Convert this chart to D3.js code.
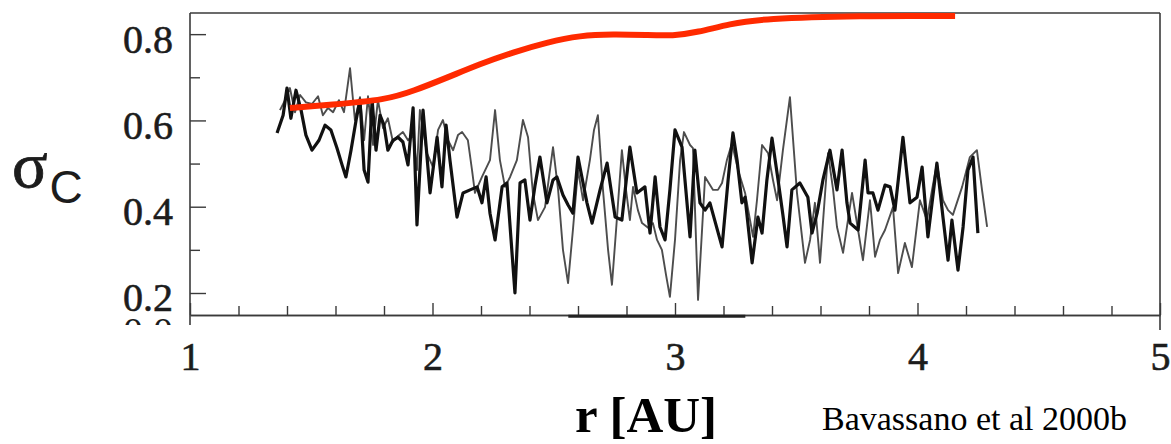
<!DOCTYPE html>
<html>
<head>
<meta charset="utf-8">
<script src="https://cdn.jsdelivr.net/npm/d3@7"></script>
<style>
  body { margin: 0; background: #fff; }
  svg { display: block; }
</style>
</head>
<body>
<svg id="chart"></svg>
<script>
// cross helicity sigma_c vs heliocentric distance
let xTicks = [1, 2, 3, 4, 5];
let yTicks = [0.2, 0.4, 0.6, 0.8];

// red trend line
let trend = [
  [1.412, 0.629], [1.577, 0.636], [1.812, 0.648], [1.920, 0.668], [2.060, 0.699],
  [2.196, 0.731], [2.332, 0.758], [2.472, 0.781], [2.608, 0.797], [2.744, 0.800],
  [2.885, 0.798], [2.992, 0.796], [3.091, 0.804], [3.227, 0.824], [3.363, 0.836],
  [3.763, 0.843], [4.155, 0.842]
];

// thick dark series
let darkSeries = [
  [1.359,0.571],[1.384,0.612],[1.400,0.675],[1.416,0.605],[1.437,0.670],[1.458,0.624],
  [1.478,0.566],[1.503,0.531],[1.532,0.554],[1.557,0.589],[1.581,0.578],[1.606,0.536],
  [1.627,0.497],[1.643,0.469],[1.664,0.531],[1.685,0.601],[1.701,0.647],[1.718,0.485],
  [1.734,0.457],[1.751,0.647],[1.767,0.531],[1.784,0.612],[1.800,0.589],[1.816,0.531],
  [1.837,0.554],[1.858,0.561],[1.878,0.550],[1.899,0.497],[1.920,0.629],[1.936,0.358],
  [1.961,0.624],[1.990,0.432],[2.019,0.561],[2.039,0.446],[2.056,0.589],[2.072,0.508],
  [2.101,0.376],[2.126,0.432],[2.155,0.439],[2.184,0.446],[2.204,0.409],[2.221,0.469],
  [2.237,0.385],[2.258,0.323],[2.287,0.446],[2.307,0.455],[2.324,0.323],[2.340,0.200],
  [2.361,0.455],[2.381,0.462],[2.402,0.369],[2.423,0.450],[2.443,0.515],[2.472,0.409],
  [2.497,0.462],[2.513,0.469],[2.538,0.427],[2.559,0.404],[2.579,0.385],[2.600,0.515],
  [2.616,0.469],[2.637,0.409],[2.658,0.362],[2.691,0.439],[2.720,0.501],[2.753,0.376],
  [2.781,0.369],[2.814,0.538],[2.843,0.432],[2.876,0.446],[2.897,0.339],[2.918,0.469],
  [2.938,0.353],[2.959,0.323],[2.979,0.439],[3.000,0.578],[3.029,0.538],[3.062,0.330],
  [3.082,0.531],[3.103,0.409],[3.124,0.392],[3.144,0.409],[3.169,0.358],[3.194,0.307],
  [3.219,0.462],[3.239,0.571],[3.256,0.508],[3.276,0.409],[3.289,0.422],[3.318,0.270],
  [3.342,0.376],[3.359,0.339],[3.379,0.462],[3.400,0.559],[3.425,0.462],[3.445,0.381],
  [3.462,0.307],[3.482,0.439],[3.515,0.455],[3.548,0.422],[3.565,0.339],[3.586,0.385],
  [3.610,0.462],[3.639,0.531],[3.668,0.439],[3.689,0.531],[3.709,0.409],[3.722,0.362],
  [3.755,0.346],[3.784,0.508],[3.796,0.432],[3.816,0.432],[3.837,0.392],[3.866,0.450],
  [3.887,0.446],[3.907,0.392],[3.940,0.561],[3.969,0.409],[3.998,0.422],[4.019,0.492],
  [4.043,0.330],[4.080,0.501],[4.105,0.376],[4.126,0.276],[4.142,0.369],[4.167,0.253],
  [4.188,0.353],[4.208,0.485],[4.229,0.515],[4.249,0.339]
];

// thin grey series
let greySeries = [
  [1.371,0.624],[1.392,0.647],[1.412,0.675],[1.433,0.619],[1.454,0.659],[1.478,0.642],
  [1.503,0.638],[1.528,0.656],[1.548,0.612],[1.569,0.629],[1.590,0.619],[1.614,0.647],
  [1.635,0.619],[1.660,0.721],[1.680,0.601],[1.701,0.654],[1.718,0.554],[1.734,0.656],
  [1.755,0.543],[1.775,0.647],[1.796,0.582],[1.816,0.605],[1.837,0.550],[1.858,0.564],
  [1.878,0.573],[1.899,0.554],[1.920,0.566],[1.936,0.485],[1.948,0.624],[1.977,0.524],
  [2.002,0.492],[2.023,0.578],[2.043,0.601],[2.064,0.554],[2.085,0.531],[2.105,0.566],
  [2.122,0.573],[2.146,0.554],[2.163,0.485],[2.175,0.432],[2.204,0.469],[2.237,0.508],
  [2.258,0.624],[2.278,0.508],[2.299,0.446],[2.320,0.469],[2.348,0.508],[2.373,0.601],
  [2.394,0.561],[2.414,0.432],[2.435,0.369],[2.464,0.399],[2.497,0.538],[2.518,0.439],
  [2.538,0.300],[2.559,0.223],[2.579,0.346],[2.600,0.485],[2.621,0.415],[2.649,0.508],
  [2.666,0.578],[2.682,0.612],[2.703,0.439],[2.724,0.300],[2.740,0.219],[2.757,0.346],
  [2.781,0.531],[2.798,0.439],[2.814,0.369],[2.827,0.446],[2.847,0.392],[2.864,0.362],
  [2.889,0.351],[2.909,0.362],[2.926,0.323],[2.946,0.300],[2.963,0.242],[2.979,0.191],
  [3.000,0.323],[3.021,0.508],[3.037,0.573],[3.062,0.543],[3.074,0.536],[3.095,0.184],
  [3.124,0.469],[3.157,0.439],[3.177,0.439],[3.194,0.455],[3.214,0.508],[3.235,0.547],
  [3.260,0.485],[3.289,0.432],[3.322,0.330],[3.338,0.415],[3.359,0.543],[3.384,0.524],
  [3.404,0.462],[3.421,0.415],[3.445,0.531],[3.474,0.654],[3.503,0.432],[3.536,0.270],
  [3.557,0.323],[3.577,0.409],[3.598,0.270],[3.631,0.524],[3.652,0.439],[3.668,0.353],
  [3.693,0.293],[3.730,0.432],[3.755,0.346],[3.775,0.276],[3.804,0.415],[3.825,0.284],
  [3.845,0.323],[3.866,0.346],[3.899,0.399],[3.920,0.246],[3.948,0.316],[3.977,0.260],
  [4.010,0.415],[4.039,0.369],[4.060,0.439],[4.080,0.501],[4.105,0.415],[4.126,0.392],
  [4.146,0.381],[4.184,0.446],[4.216,0.515],[4.245,0.531],[4.266,0.439],[4.287,0.353]
];

// short dark stroke lying on the bottom axis
let axisSegment = [[2.56, 0.146], [3.29, 0.146]];

let width = 1171;
let height = 444;
let svg = d3.select("#chart").attr("width", width).attr("height", height);

let x = d3.scaleLinear().domain([1, 5]).range([190, 1160]);
let y = d3.scaleLinear().domain([0.149, 0.849]).range([315, 13]);

let serif = "'Liberation Serif', 'Times New Roman', serif";
let ink = "#1c1c1c";

// frame
let frame = svg.append("g").attr("stroke", "#3a3a3a").attr("stroke-width", 1.6).attr("fill", "none");
frame.append("line").attr("x1", x(1)).attr("x2", x(5)).attr("y1", y.range()[1]).attr("y2", y.range()[1]);
frame.append("line").attr("x1", x(1)).attr("x2", x(1)).attr("y1", y.range()[1]).attr("y2", y.range()[0] + 10);
frame.append("line").attr("x1", x(5)).attr("x2", x(5)).attr("y1", y.range()[1]).attr("y2", y.range()[0] + 15);

// x axis: minor then major ticks, inward
let minorX = d3.range(10, 51, 2).map(d => d / 10).filter(d => !xTicks.includes(d));
svg.append("g")
  .attr("transform", `translate(0,${y.range()[0]})`)
  .call(d3.axisBottom(x).tickValues(minorX).tickSize(-9).tickSizeOuter(0).tickFormat(""))
  .call(g => g.selectAll("line,path").attr("stroke", "#3a3a3a").attr("stroke-width", 1.4));

let gX = svg.append("g")
  .attr("transform", `translate(0,${y.range()[0]})`)
  .call(d3.axisBottom(x).tickValues(xTicks).tickSize(-12).tickSizeOuter(0).tickPadding(27).tickFormat(d3.format("d")));
gX.selectAll("line,path").attr("stroke", "#3a3a3a").attr("stroke-width", 1.4);
gX.selectAll("text")
  .attr("font-family", serif).attr("font-size", 40).attr("fill", ink)
  .attr("stroke", ink).attr("stroke-width", 0.6);

// y axis
let minorY = [0.3, 0.5, 0.7];
svg.append("g")
  .attr("transform", `translate(${x(1)},0)`)
  .call(d3.axisLeft(y).tickValues(minorY).tickSize(-10).tickSizeOuter(0).tickFormat(""))
  .call(g => g.select("path").remove())
  .call(g => g.selectAll("line").attr("stroke", "#3a3a3a").attr("stroke-width", 1.4));

let gY = svg.append("g")
  .attr("transform", `translate(${x(1)},0)`)
  .call(d3.axisLeft(y).tickValues(yTicks).tickSize(-16).tickSizeOuter(0).tickPadding(17).tickFormat(d3.format(".1f")));
gY.select("path").remove();
gY.selectAll("line").attr("stroke", "#3a3a3a").attr("stroke-width", 1.4);
gY.selectAll("text")
  .attr("font-family", serif).attr("font-size", 40).attr("fill", ink).attr("dy", "0.45em")
  .attr("stroke", ink).attr("stroke-width", 0.6);

// partially hidden label below the axis (cut off in the original)
svg.append("clipPath").attr("id", "cut")
  .append("rect").attr("x", 0).attr("y", y.range()[0] + 2).attr("width", x(1)).attr("height", 8);
svg.append("text")
  .attr("clip-path", "url(#cut)")
  .attr("x", x(1) - 17).attr("y", y(0.2) + 52)
  .attr("text-anchor", "end")
  .attr("font-family", serif).attr("font-size", 40).attr("fill", ink)
  .text("0.0");

let line = d3.line().x(d => x(d[0])).y(d => y(d[1]));

svg.append("path").datum(axisSegment)
  .attr("d", line).attr("fill", "none").attr("stroke", "#222").attr("stroke-width", 3);

svg.append("path").datum(greySeries)
  .attr("d", line).attr("fill", "none")
  .attr("stroke", "#4d4d4d").attr("stroke-width", 1.9).attr("stroke-linejoin", "round");

svg.append("path").datum(darkSeries)
  .attr("d", line).attr("fill", "none")
  .attr("stroke", "#111").attr("stroke-width", 3.2).attr("stroke-linejoin", "round");

svg.append("path").datum(trend)
  .attr("d", line.curve(d3.curveBasis)).attr("fill", "none")
  .attr("stroke", "#ff2a00").attr("stroke-width", 6).attr("stroke-linecap", "butt");

// axis titles
let yTitle = svg.append("text").attr("x", 12).attr("y", 187).attr("fill", ink);
yTitle.append("tspan").attr("font-family", serif).attr("font-size", 66)
  .attr("stroke", ink).attr("stroke-width", 0.8).text("σ");
yTitle.append("tspan").attr("font-family", "'Liberation Sans', Arial, sans-serif")
  .attr("font-size", 46).attr("dy", 16).attr("dx", 2).text("C");

svg.append("text")
  .attr("x", 575).attr("y", 432)
  .attr("font-family", serif).attr("font-weight", "bold").attr("font-size", 51)
  .attr("fill", "#000")
  .text("r [AU]");

svg.append("text")
  .attr("x", 822).attr("y", 430)
  .attr("font-family", serif).attr("font-size", 34)
  .attr("fill", "#000")
  .text("Bavassano et al 2000b");
</script>
</body>
</html>
